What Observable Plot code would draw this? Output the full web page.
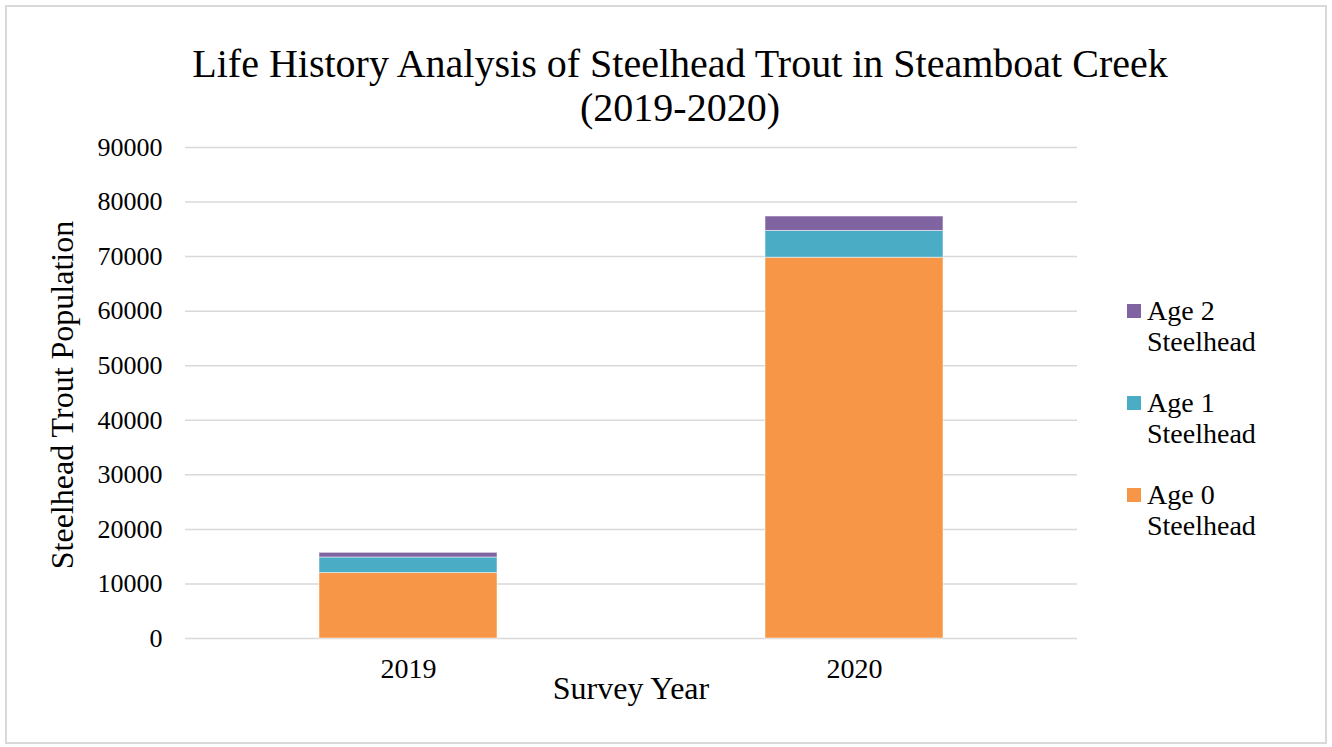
<!DOCTYPE html>
<html>
<head>
<meta charset="utf-8">
<script src="https://cdn.jsdelivr.net/npm/d3@7"></script>
<script src="https://cdn.jsdelivr.net/npm/@observablehq/plot@0.6"></script>
<style>
  html, body { margin: 0; padding: 0; background: #fff; }
  #chart { position: relative; width: 1332px; height: 747px; font-family: "Liberation Serif", "Times New Roman", serif; color: #000; overflow: hidden; }
  #frame { position: absolute; left: 5px; top: 5px; width: 1318px; height: 735px; border: 2px solid #d9d9d9; }
  #plot { position: absolute; left: 0; top: 0; }
  #title { position: absolute; left: 130px; width: 1100px; top: 42px; text-align: center; font-size: 40px; line-height: 44px; }
  .axtitle { position: absolute; font-size: 32px; white-space: nowrap; }
  #xtitle { left: 631px; top: 688px; transform: translate(-50%, -50%); }
  #ytitle { left: 62px; top: 395px; transform: translate(-50%, -50%) rotate(-90deg); }
  #legend { position: absolute; left: 1127px; top: 295px; font-size: 28px; }
  .item { position: relative; padding-left: 20px; line-height: 31px; margin-bottom: 30px; }
  .swatch { position: absolute; left: 0; top: 9px; width: 14px; height: 14px; }
</style>
</head>
<body>
<div id="chart">
  <div id="frame"></div>
  <div id="plot"></div>
  <div id="title">Life History Analysis of Steelhead Trout in Steamboat Creek<br>(2019-2020)</div>
  <div class="axtitle" id="xtitle">Survey Year</div>
  <div class="axtitle" id="ytitle">Steelhead Trout Population</div>
  <div id="legend"></div>
</div>
<script>
// Data
const years = ["2019", "2020"];
const series = ["Age 0 Steelhead", "Age 1 Steelhead", "Age 2 Steelhead"];
const age0 = [12000, 69800];
const age1 = [2850, 4900];
const age2 = [850, 2650];
const colors = ["#F79646", "#4BACC6", "#8064A2"];
const yTicks = [0, 10000, 20000, 30000, 40000, 50000, 60000, 70000, 80000, 90000];

const valuesBySeries = [age0, age1, age2];
const rows = [];
years.forEach((yr, i) => {
  series.forEach((s, j) => rows.push({year: yr, type: s, value: valuesBySeries[j][i]}));
});

const chart = Plot.plot({
  width: 1332,
  height: 747,
  marginTop: 147,
  marginBottom: 109,
  marginLeft: 185,
  marginRight: 255,
  style: {fontFamily: "'Liberation Serif', 'Times New Roman', serif", color: "#000", background: "transparent"},
  x: {domain: years, paddingInner: 0.6, paddingOuter: 0.3, label: null},
  y: {domain: [0, 90000], label: null},
  color: {domain: series, range: colors},
  marks: [
    Plot.gridY(yTicks, {stroke: "#d9d9d9", strokeOpacity: 1, strokeWidth: 1.5}),
    Plot.barY(rows, {x: "year", y: "value", fill: "type", stroke: "#fff", strokeOpacity: 0.5, strokeWidth: 1}),
    Plot.axisY({ticks: yTicks, tickSize: 0, tickPadding: 23, tickFormat: d => String(d), fontSize: 26, label: null}),
    Plot.axisX({tickSize: 0, tickPadding: 20, fontSize: 28, label: null})
  ]
});
document.getElementById("plot").appendChild(chart);

// Legend (top to bottom: Age 2, Age 1, Age 0)
const legend = document.getElementById("legend");
for (let j = series.length - 1; j >= 0; j--) {
  const item = document.createElement("div");
  item.className = "item";
  const sw = document.createElement("span");
  sw.className = "swatch";
  sw.style.background = colors[j];
  item.appendChild(sw);
  const parts = series[j].split(" ");
  const label = document.createElement("span");
  label.innerHTML = parts.slice(0, 2).join(" ") + "<br>" + parts.slice(2).join(" ");
  item.appendChild(label);
  legend.appendChild(item);
}
</script>
</body>
</html>
